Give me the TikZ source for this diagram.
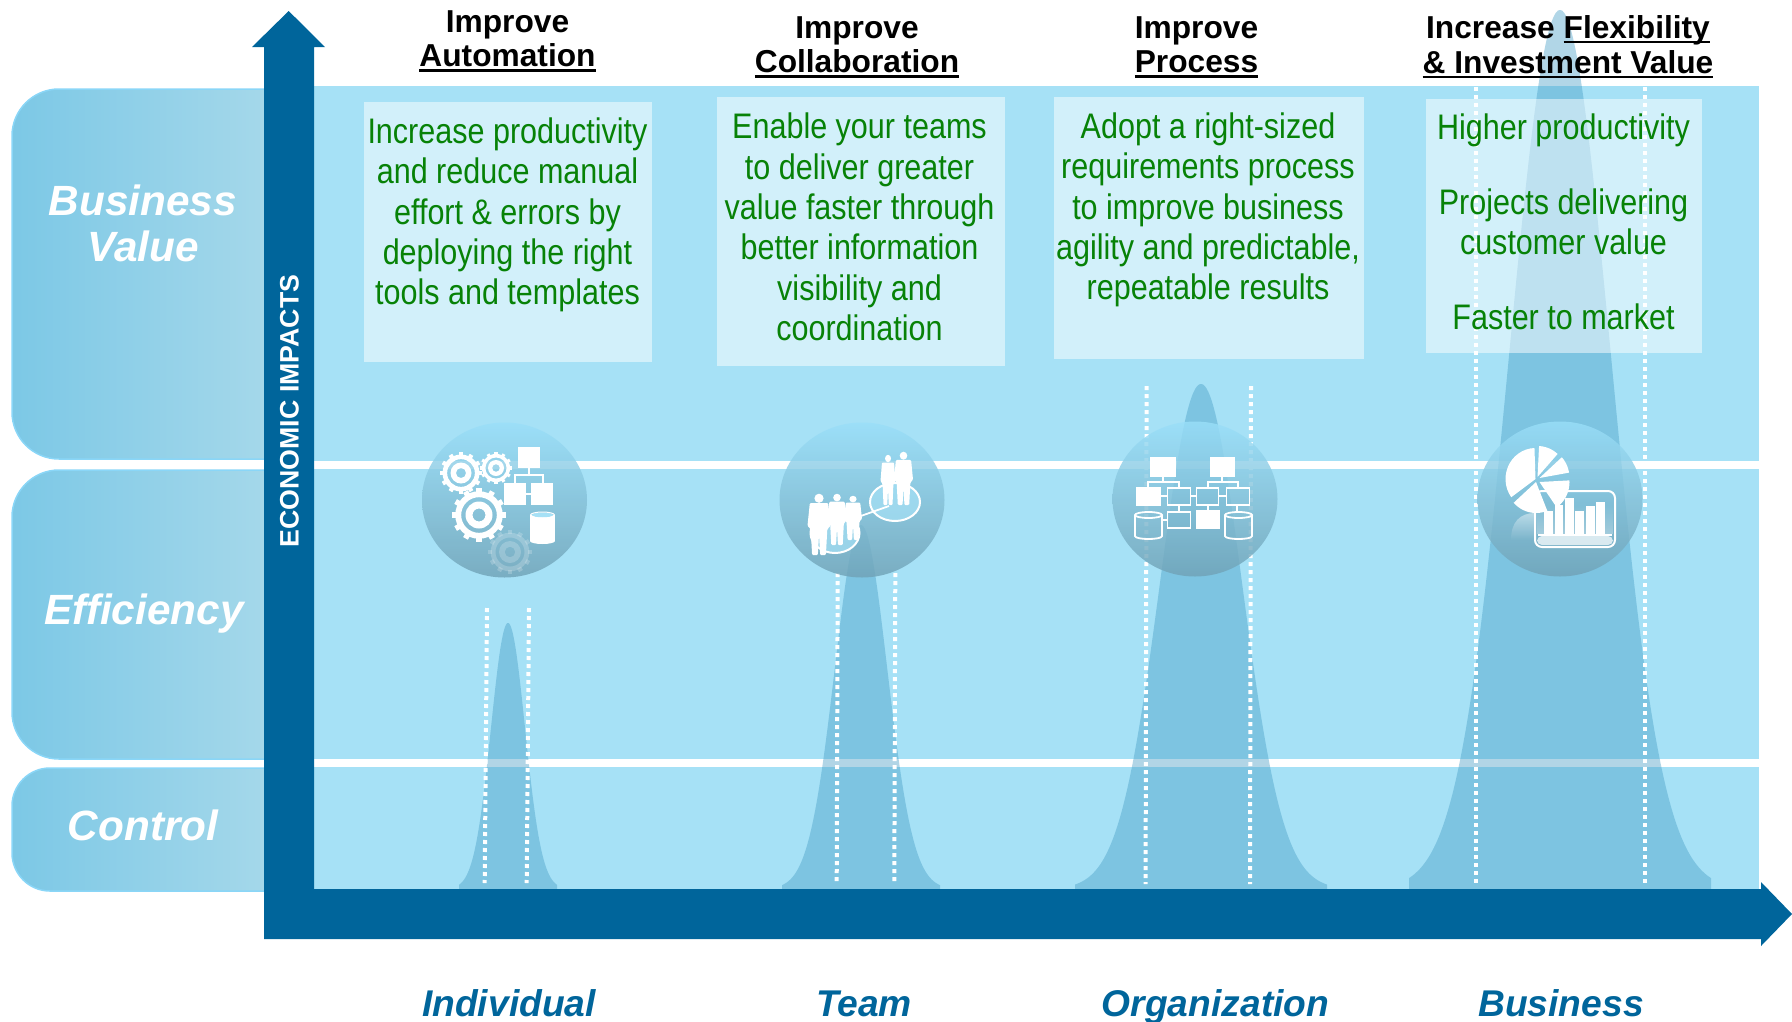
\documentclass[tikz,border=0pt]{standalone}
\usepackage{fontspec}
\setmainfont{Liberation Sans}
\newfontfamily\greenfont[FakeStretch=0.86]{Liberation Sans}
\usetikzlibrary{shapes.geometric,fadings}
\definecolor{bandblue}{HTML}{A6E1F6}
\definecolor{axisblue}{HTML}{00659B}
\definecolor{bellblue}{HTML}{469DC5}
\definecolor{textgreen}{HTML}{078207}
\newcommand\ultext[1]{\setbox0=\hbox{#1}\rlap{\raisebox{-4.6pt}{\rule{\wd0}{2.4pt}}}\box0}
\newcommand\bellcurve[4]{% cx, peak y, sigma, half base
  \fill[bellfill] ({#1-#4},889) -- plot[domain=-#4:#4,samples=141,smooth] ({#1+\x},{889-(889-#2)*exp(-(\x/#3)*(\x/#3)/2)}) -- ({#1+#4},889) -- cycle;}
\newcommand\gearicon[4]{% cx, cy, r, opacity
  \begin{scope}[opacity=#4]
  \foreach \a in {0,30,...,330}
    \draw[white,line width=#3*0.2pt] ({#1+#3*0.82*cos(\a)},{#2+#3*0.82*sin(\a)}) -- ({#1+#3*cos(\a)},{#2+#3*sin(\a)});
  \fill[white,even odd rule] (#1,#2) circle[radius=#3*0.88] (#1,#2) circle[radius=#3*0.66] (#1,#2) circle[radius=#3*0.5] (#1,#2) circle[radius=#3*0.24];
  \end{scope}}
\newcommand\personicon[4]{% x, top, height, width
  \fill[white] (#1,{#2+0.07*#3}) circle[x radius=#4*0.2,y radius=#3*0.075];
  \fill[white,rounded corners=1pt] ({#1-0.4*#4},{#2+0.15*#3}) -- ({#1+0.4*#4},{#2+0.15*#3}) -- ({#1+0.5*#4},{#2+0.52*#3}) -- ({#1+0.36*#4},{#2+0.58*#3}) -- ({#1+0.3*#4},{#2+#3}) -- ({#1+0.05*#4},{#2+#3}) -- (#1,{#2+0.66*#3}) -- ({#1-0.05*#4},{#2+#3}) -- ({#1-0.3*#4},{#2+#3}) -- ({#1-0.36*#4},{#2+0.58*#3}) -- ({#1-0.5*#4},{#2+0.52*#3}) -- cycle;}
\newcommand\cyloutline[4]{% x1, x2, y1, y2
  \draw[iconline] (#1,{#3+3}) -- (#1,{#4-3}) .. controls (#1,{#4+1}) and (#2,{#4+1}) .. (#2,{#4-3}) -- (#2,{#3+3});
  \draw[iconline] ({(#1+#2)/2},{#3+3}) circle[x radius={(#2-#1)/2},y radius=3];}
\newcommand\pieslice[4]{% dx, dy, a1, a2
  \fill[white] ({1536.5+#1},{479+#2}) -- plot[domain=#3:#4,samples=16] ({1536.5+#1+30*cos(\x)},{479+#2-31*sin(\x)}) -- cycle;}
\tikzset{
  bandline/.style={fill=white},
  bellfill/.style={fill=bellblue,fill opacity=0.42},
  dotline/.style={draw=white,line width=4pt,dash pattern=on 4pt off 4pt},
  panel/.style={left color=panelleft,right color=panelright,draw=panelline,line width=1.5pt,rounded corners=#1},
  glassbox/.style={fill=white,fill opacity=0.5,draw=none,inner sep=0pt,outer sep=0pt,rectangle},
  bubble/.style={ellipse,minimum width=165pt,minimum height=155pt,inner sep=0pt,draw=none,top color=bubbletop,bottom color=bubblebottom,fill opacity=0.82},
  axisarrow/.style={fill=axisblue},
  iconline/.style={draw=white,line width=1.8pt},
  iconfill/.style={fill=white},
  titlelabel/.style={font=\fontsize{31.7}{34.6}\selectfont\bfseries,align=center,text=black,inner sep=0pt},
  bodytext/.style={font=\fontsize{35.5}{40.3}\selectfont\greenfont,align=center,text=textgreen,inner sep=0pt},
  sidelabel/.style={font=\fontsize{42.3}{46}\selectfont\bfseries\itshape,align=center,text=white,inner sep=0pt},
  footlabel/.style={font=\fontsize{37.2}{40}\selectfont\bfseries\itshape,text=axisblue,inner sep=0pt,anchor=base},
}
\definecolor{panelleft}{HTML}{7CC8E6}
\definecolor{panelright}{HTML}{A5D8EA}
\definecolor{panelline}{HTML}{8AD6F7}
\definecolor{bubbletop}{HTML}{9ADFF9}
\definecolor{bubblebottom}{HTML}{70A2B6}
\begin{document}
\begin{tikzpicture}[x=1pt,y=-1pt]
\useasboundingbox (0,0) rectangle (1792,1021);
% band and separators
\fill[fill=bandblue] (314,86) rectangle (1759,889);
\fill[bandline] (314,461) rectangle (1759,469);
\fill[bandline] (314,759) rectangle (1759,767);
% left panels
\path[panel=47pt] (270,89) -- (12,89) -- (12,459) -- (270,459);
\path[panel=47pt] (270,470) -- (12,470) -- (12,759) -- (270,759);
\path[panel=38pt] (270,768) -- (12,768) -- (12,891) -- (270,891);
% bell curves
\bellcurve{508}{623}{17}{49}
\bellcurve{861}{525}{26.2}{79}
\bellcurve{1201}{384}{41}{126}
\bellcurve{1560}{10}{51}{151}
% dotted guides
\draw[dotline] (487,608) -- (484.7,883);
\draw[dotline] (529,608) -- (526.7,883);
\draw[dotline] (837.7,573) -- (836.7,884);
\draw[dotline] (895.3,573) -- (894.3,884);
\draw[dotline] (1146.6,386) -- (1145.6,884);
\draw[dotline] (1251,386) -- (1250,884);
\draw[dotline] (1475.7,87) -- (1475.7,884);
\draw[dotline] (1644.7,87) -- (1644.7,884);
% text boxes
\node[glassbox,minimum width=287.5pt,minimum height=260pt] (boxa) at (507.75,232) {};
\node[glassbox,minimum width=288pt,minimum height=269pt] (boxb) at (860.6,231.5) {};
\node[glassbox,minimum width=309.5pt,minimum height=262pt] (boxc) at (1208.75,228) {};
\node[glassbox,minimum width=276pt,minimum height=254pt] (boxd) at (1564,226) {};
% bubbles
\node[bubble] (buba) at (504.5,500) {};
\node[bubble] (bubb) at (862,500) {};
\node[bubble] (bubc) at (1195,499) {};
\node[bubble] (bubd) at (1560,499) {};
% automation icon
\gearicon{461}{473}{21}{1}
\gearicon{496}{468}{16}{1}
\gearicon{479}{515}{27}{1}
\gearicon{510}{552}{22}{0.2}
\fill[iconfill] (518,447) rectangle (540,468);
\fill[iconfill] (504,483) rectangle (526,505);
\fill[iconfill] (531,483) rectangle (553,505);
\draw[iconline] (529,468) -- (529,475) (515,483) -- (515,475) -- (543,475) -- (543,483) (526,494) -- (531,494);
\fill[iconfill] (530,515) rectangle (555,541);
\fill[iconfill] (542.5,541) circle[x radius=12.5,y radius=3];
\fill[fill=bandblue] (542.5,515) circle[x radius=10.5,y radius=2.5];
\draw[draw=white,line width=1pt] (542.5,515) circle[x radius=12,y radius=3];
% collaboration icon
\draw[draw=white,line width=2pt,fill=bandblue,fill opacity=0.7] (895,502) circle[x radius=25,y radius=19];
\draw[draw=white,line width=2pt,fill=bandblue,fill opacity=0.7] (835,533) circle[x radius=24.5,y radius=20];
\draw[iconline] (858,517) -- (889,506);
\personicon{888}{455}{50}{15}
\personicon{903.5}{452}{53}{19}
\personicon{819}{494}{61}{23}
\personicon{837}{494}{51}{19}
\personicon{853}{496}{44}{18}
% process icon
\fill[iconfill] (1150,457) rectangle (1176,477);
\fill[iconfill] (1210,457) rectangle (1235,477);
\draw[iconline] (1163,477) -- (1163,482) (1148,487) -- (1148,482) -- (1179,482) -- (1179,487);
\draw[iconline] (1222,477) -- (1222,482) (1208,487) -- (1208,482) -- (1238,482) -- (1238,487);
\fill[iconfill] (1136,487) rectangle (1161,506);
\draw[iconline] (1167.5,488) rectangle (1190.5,505);
\draw[iconline] (1196.5,488) rectangle (1218.5,505);
\draw[iconline] (1226.5,488) rectangle (1249.5,505);
\draw[iconline] (1161,496) -- (1167,496) (1191,496) -- (1196,496) (1219,496) -- (1226,496);
\draw[iconline] (1179,506) -- (1179,511) (1208,506) -- (1208,510) (1237,506) -- (1237,512);
\draw[iconline] (1167.5,512) rectangle (1190.5,528);
\fill[iconfill] (1196,510) rectangle (1220,529);
\draw[iconline] (1162,520) -- (1167,520);
\cyloutline{1135}{1162}{512}{539}
\cyloutline{1225}{1252}{512}{539}
% business icon
\fill[white,opacity=0.45,path fading=south] (1511,540) .. controls (1511,522) and (1520,513) .. (1535,513) -- (1535,540) -- cycle;
\draw[draw=white,line width=2pt,rounded corners=7pt] (1535,491) rectangle (1615,547);
\fill[white,opacity=0.72,rounded corners=5pt] (1537,536) rectangle (1613,545);
\fill[white,opacity=0.3,path fading=north] (1537,505) rectangle (1613,534);
\fill[iconfill] (1544,511) rectangle (1553,534);
\fill[iconfill] (1555,505) rectangle (1563,534);
\fill[iconfill] (1565,498) rectangle (1574,534);
\fill[iconfill] (1575,511) rectangle (1584,534);
\fill[iconfill] (1586,506) rectangle (1595,534);
\fill[iconfill] (1596,502) rectangle (1605,534);
\draw[iconline] (1538,535) -- (1612,535);
\pieslice{-1}{0}{92}{216}
\pieslice{-0.5}{3}{222}{292}
\pieslice{3}{3}{-55}{3}
\pieslice{3}{-1}{10}{42}
\pieslice{1}{-2}{48}{87}
% axes
\fill[axisarrow] (264,889) -- (264,47) -- (252,47) -- (288.7,11) -- (325,47) -- (314,47) -- (314,889) -- cycle;
\fill[axisarrow] (264,889) -- (1761,889) -- (1761,882) -- (1792,914) -- (1761,946) -- (1761,939) -- (264,939) -- cycle;
% labels
\node[rotate=90,font=\fontsize{26.7}{30}\selectfont\bfseries,text=white,inner sep=0pt] (econ) at (289.5,411) {ECONOMIC IMPACTS};
\node[sidelabel] (lbiz) at (143,223) {Business\\Value};
\node[sidelabel] (leff) at (144,613.5) {Efficiency};
\node[sidelabel] (lctl) at (143,825) {Control};
\node[footlabel] (fa) at (509,1016) {Individual};
\node[footlabel] (fb) at (864,1016) {Team};
\node[footlabel] (fc) at (1215.5,1016) {Organization};
\node[footlabel] (fd) at (1561,1016) {Business};
\node[titlelabel] (ta) at (507.5,41) {Improve\\\ultext{Automation}};
\node[titlelabel] (tb) at (857,47) {Improve\\\ultext{Collaboration}};
\node[titlelabel] (tc) at (1196.5,47) {Improve\\\ultext{Process}};
\node[titlelabel] (td) at (1568,47) {Increase \ultext{Flexibility}\\\ultext{\& Investment Value}};
\node[bodytext] (xa) at (507.5,215) {Increase productivity\\and reduce manual\\effort \& errors by\\deploying the right\\tools and templates};
\node[bodytext] (xb) at (859.5,227) {Enable your teams\\to deliver greater\\value faster through\\better information\\visibility and\\coordination};
\node[bodytext] (xc) at (1208,210) {Adopt a right-sized\\requirements process\\to improve business\\agility and predictable,\\repeatable results};
\node[bodytext] (xd1) at (1563.5,130) {Higher productivity};
\node[bodytext] (xd2) at (1563.5,222) {Projects delivering\\customer value};
\node[bodytext] (xd3) at (1563.5,317) {Faster to market};
\end{tikzpicture}
\end{document}
